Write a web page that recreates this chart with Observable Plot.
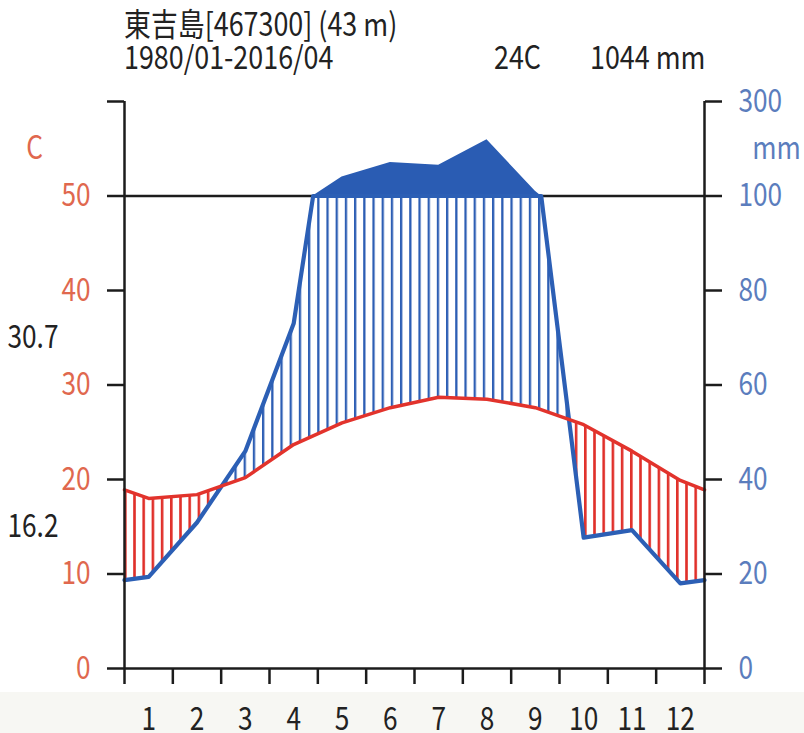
<!DOCTYPE html>
<html>
<head>
<meta charset="utf-8">
<script src="https://cdn.jsdelivr.net/npm/d3@7"></script>
<script src="https://cdn.jsdelivr.net/npm/@observablehq/plot@0.6"></script>
<style>
  html, body { margin: 0; padding: 0; }
  body {
    width: 804px; height: 733px; overflow: hidden;
    font-family: "Noto Sans CJK TC", "Noto Sans", sans-serif; color: #222;
    background: linear-gradient(to bottom, #ffffff 0, #ffffff 692px, #f7f7f3 692px, #f7f7f3 733px);
  }
  #header { position: relative; height: 80px; }
  #header span {
    position: absolute; font-size: 32px; line-height: 32px; height: 32px; white-space: nowrap;
    transform: scaleX(0.84); transform-origin: 0 0;
  }
  #chart svg { display: block; overflow: visible; }
</style>
</head>
<body>
<div id="header">
  <span style="left:124px; top:6px;">東吉島[467300] (43 m)</span>
  <span style="left:124px; top:39px;">1980/01-2016/04</span>
  <span style="left:494px; top:39px;">24C</span>
  <span style="left:590px; top:39px;">1044 mm</span>
</div>
<div id="chart"></div>
<script>
// ---- data ----
const monthLabels = ["1","2","3","4","5","6","7","8","9","10","11","12"];
const monthPos = [0.5,1.5,2.5,3.5,4.5,5.5,6.5,7.5,8.5,9.5,10.5,11.5];
const monthBounds = [0,1,2,3,4,5,6,7,8,9,10,11,12];
const tempMonthly = [18.0,18.4,20.2,23.7,26.0,27.6,28.7,28.5,27.6,25.8,23.0,19.9]; // C
const precipMonthly = [19.4,30.9,46,73,140,171,165,219,110,27.7,29.3,18.0];      // mm
const edgePos = [0, 12];
const tempEdge = 18.9;    // curve value drawn at both edges
const precipEdge = 18.7;
const tempTicks = [0,10,20,30,40,50,60];
const tempTickLabels = ["0","10","20","30","40","50",""];
const precipTickLabels = ["0","20","40","60","80","100","300"];
const unitLabels = ["C","mm"];
const unitPos = [55, 55];
const extremeLabels = ["30.7","16.2"];
const extremePos = [35, 15];

// ---- table for the library ----
const curve = [
  {m: edgePos[0], t: tempEdge, p: precipEdge},
  ...monthPos.map((m, i) => ({m, t: tempMonthly[i], p: precipMonthly[i]})),
  {m: edgePos[1], t: tempEdge, p: precipEdge}
];
// precipitation path including the points where it passes the 100 mm scale break
const pcurve = [];
curve.forEach((d, i) => {
  pcurve.push(d);
  const e = curve[i + 1];
  if (e && (d.p - 100) * (e.p - 100) < 0) {
    pcurve.push({m: d.m + (e.m - d.m) * (100 - d.p) / (e.p - d.p), p: 100});
  }
});
// Walter-Lieth scale: 20 mm = 10 C below 100 mm, 200 mm = 10 C above
const toT = p => p <= 100 ? p / 2 : 50 + (p - 100) / 20;

const AX = "#1c1c1c", RED = "#e2332c", BLUE = "#2c5fb5", TEMPLAB = "#e0684e", PRECLAB = "#5b7dbd";
const FS = 32;

const chart = Plot.plot({
  width: 804, height: 653,
  marginLeft: 124, marginRight: 100, marginTop: 21, marginBottom: 65,
  x: {domain: [0, 12], axis: null},
  y: {domain: [0, 60], axis: null},
  style: {fontFamily: '"Noto Sans CJK TC", "Noto Sans", sans-serif', fontSize: FS + "px", background: "transparent", overflow: "visible"},
  marks: [
    Plot.areaY(curve, {x: "m", y1: "t", y2: 50, fill: "#000", ariaDescription: "humid-clip"}),
    Plot.areaY(curve, {x: "m", y1: 0, y2: "t", fill: "#000", ariaDescription: "arid-clip"}),
    Plot.areaY(curve, {x: "m", y1: "t", y2: d => d.p / 2, fill: RED, ariaDescription: "arid-hatch"}),
    Plot.areaY(curve, {x: "m", y1: "t", y2: d => d.p / 2, fill: BLUE, ariaDescription: "humid-hatch"}),
    Plot.ruleY([50], {stroke: AX, strokeWidth: 2.5}),
    Plot.areaY(pcurve, {x: "m", y1: 50, y2: d => toT(Math.max(100, d.p)), fill: "#2a5cb3"}),
    Plot.lineY(pcurve, {x: "m", y: d => toT(Math.min(100, d.p)), stroke: BLUE, strokeWidth: 4.2}),
    Plot.lineY(curve, {x: "m", y: "t", stroke: RED, strokeWidth: 3.5}),
    Plot.ruleY([0], {stroke: AX, strokeWidth: 2.5}),
    Plot.ruleX(edgePos, {y1: 0, y2: 60, stroke: AX, strokeWidth: 2.5}),
    Plot.axisY(tempTicks, {anchor: "left", tickSize: 17, tickPadding: 17, strokeWidth: 2.5, stroke: AX,
      fill: TEMPLAB, label: null, tickFormat: d => tempTickLabels[tempTicks.indexOf(d)]}),
    Plot.axisY(tempTicks, {anchor: "right", tickSize: 17, tickPadding: 17, strokeWidth: 2.5, stroke: AX,
      fill: PRECLAB, label: null, tickFormat: d => precipTickLabels[tempTicks.indexOf(d)]}),
    Plot.axisX(monthBounds, {anchor: "bottom", tickSize: 16, strokeWidth: 2.5, stroke: AX, label: null, tickFormat: () => ""}),
    Plot.axisX(monthPos, {anchor: "bottom", tickSize: 0, tickPadding: 39, fill: "#222", label: null,
      tickFormat: d => monthLabels[monthPos.indexOf(d)]}),
    Plot.text([unitLabels[0]], {x: edgePos[0], y: unitPos[0], dx: -90, fill: TEMPLAB, textAnchor: "middle"}),
    Plot.text([unitLabels[1]], {x: edgePos[1], y: unitPos[1], dx: 72, fill: PRECLAB, textAnchor: "middle"}),
    Plot.text(extremeLabels, {x: edgePos[0], y: (d, i) => extremePos[i], dx: -117, fill: "#222", textAnchor: "start"})
  ]
});
document.getElementById("chart").appendChild(chart);

// ---- hatching (vertical line patterns) clipped above / below the temperature curve ----
const ns = "http://www.w3.org/2000/svg";
const svg = chart;
const defs = document.createElementNS(ns, "defs");
svg.insertBefore(defs, svg.firstChild);
const HATCH = 9.2;
const x0 = chart.scale("x").apply(0);
function mkPattern(id, color, w) {
  const pt = document.createElementNS(ns, "pattern");
  pt.setAttribute("id", id);
  pt.setAttribute("patternUnits", "userSpaceOnUse");
  pt.setAttribute("x", x0); pt.setAttribute("y", 0);
  pt.setAttribute("width", HATCH); pt.setAttribute("height", 20);
  const r = document.createElementNS(ns, "rect");
  r.setAttribute("x", 0); r.setAttribute("y", 0);
  r.setAttribute("width", w); r.setAttribute("height", 20);
  r.setAttribute("fill", color);
  pt.appendChild(r);
  defs.appendChild(pt);
}
mkPattern("hatchRed", "#e0302a", 2.6);
mkPattern("hatchBlue", "#2d5eb4", 2.3);
const areaList = Array.from(svg.querySelectorAll("g")).filter(g => g.getAttribute("aria-label") === "area");
function findG(label, idx) {
  return svg.querySelector(`g[aria-description="${label}"]`) || areaList[idx];
}
const gHumidClip = findG("humid-clip", 0), gAridClip = findG("arid-clip", 1),
      gAridHatch = findG("arid-hatch", 2), gHumidHatch = findG("humid-hatch", 3);
function clipFrom(g, id) {
  const cp = document.createElementNS(ns, "clipPath");
  cp.setAttribute("id", id);
  if (g) {
    g.querySelectorAll("path").forEach(src => {
      const p = document.createElementNS(ns, "path");
      p.setAttribute("d", src.getAttribute("d"));
      cp.appendChild(p);
    });
    g.remove();
  }
  defs.appendChild(cp);
}
clipFrom(gHumidClip, "clipHumid");
clipFrom(gAridClip, "clipArid");
function hatch(g, clipId, patId) {
  if (!g) return;
  g.setAttribute("fill", `url(#${patId})`);
  g.querySelectorAll("path").forEach(p => {
    p.setAttribute("fill", `url(#${patId})`);
    p.setAttribute("clip-path", `url(#${clipId})`);
  });
}
hatch(gAridHatch, "clipArid", "hatchRed");
hatch(gHumidHatch, "clipHumid", "hatchBlue");

// condensed lettering, as in the original
const SX = 0.82;
svg.querySelectorAll("text").forEach(t => {
  const tr = t.getAttribute("transform") || "";
  if (t.hasAttribute("x") && !tr) t.setAttribute("x", +t.getAttribute("x") / SX);
  t.setAttribute("transform", (tr + ` scale(${SX},1)`).trim());
});
</script>
</body>
</html>
